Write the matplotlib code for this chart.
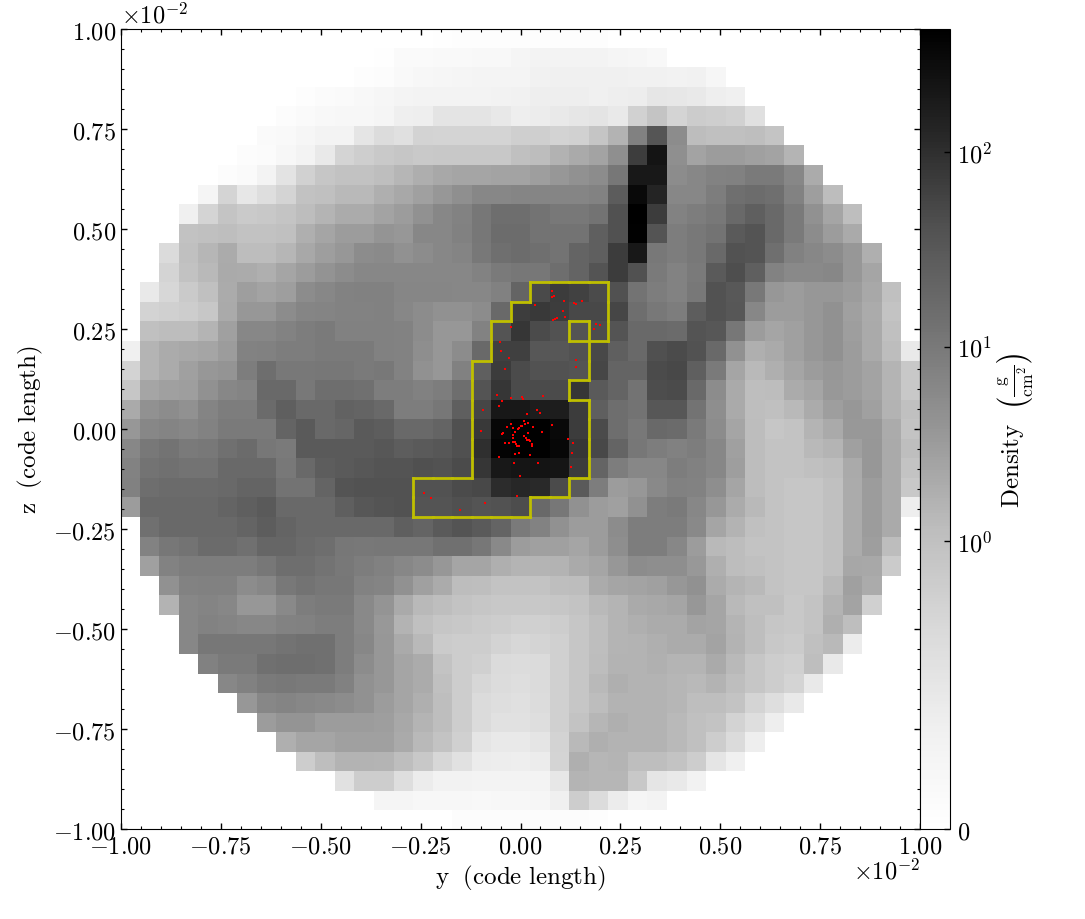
import numpy as np
import matplotlib
matplotlib.use('Agg')
import matplotlib.pyplot as plt
from matplotlib.collections import LineCollection
from matplotlib.colors import SymLogNorm

# projected density, one list per row from the top, first entry sits in column row_start[r]
row_start = [16, 13, 11, 9, 8, 7, 6, 5, 4, 3, 3, 2, 2, 1, 1, 1, 0, 0, 0, 0, 0, 0, 0, 0, 0,
             1, 1, 1, 2, 2, 3, 3, 4, 5, 6, 7, 8, 9, 11, 13, 16]
density_rows = [
    [.03, .05, .05, .06, .06, .06, .06, .05, .05],
    [.04, .12, .12, .14, .15, .17, .17, .23, .28, .28, .28, .28, .23, .21, .17],
    [.02, .05, .07, .14, .19, .21, .24, .25, .25, .26, .33, .35, .35, .35, .35, .33, .33, .3, .33, .21],
    [.05, .1, .12, .17, .21, .25, .28, .28, .28, .28, .3, .33, .38, .39, .39, .35, .39, .4, .51, .49, .46, .38, .35],
    [.07, .12, .17, .19, .2, .23, .36, .38, .54, .53, .53, .47, .39, .42, .45, .51, .54, .45, .8, .96, .75, .86, .83, .8, .59],
    [.12, .14, .21, .28, .28, .52, .65, .59, .78, .77, .77, .77, .77, .82, .82, .78, .8, .95, 1.6, 7.9, 35, 5.3, 1.17, 1.0, 1.0, 1.12, .96],
    [.07, .1, .19, .28, .46, .77, .83, .9, .93, .9, .91, .91, .91, .91, 1.0, 1.2, 1.67, 2.05, 2.6, 4.8, 69, 225, 4.8, 2.55, 3.2, 3.2, 2.78, 2.6, 1.52],
    [.07, .12, .28, .55, .8, .93, .98, .98, 1.1, 1.42, 1.85, 2.2, 2.4, 2.4, 2.55, 2.6, 3.0, 3.77, 4.5, 5.3, 11, 190, 190, 5.3, 6.3, 7.4, 7.9, 9.6, 9.6, 6.3, 1.95],
    [.23, .77, .49, .62, .77, .98, 1.0, 1.3, 1.3, 1.77, 2.2, 2.78, 3.77, 4.8, 6.3, 6.3, 6.7, 6.7, 6.7, 6.7, 7.4, 28, 310, 135, 6.3, 6.3, 8.7, 13.8, 15.8, 13.8, 7.4, 3.0, 1.17],
    [.35, .77, .96, .88, .91, .96, 1.17, 1.52, 1.95, 1.95, 2.6, 3.2, 4.5, 6.3, 7.4, 11, 14.7, 14.7, 12.3, 10.4, 10.4, 12.3, 41, 428, 72, 7.4, 8.7, 10.4, 17.6, 25, 17.6, 9.6, 4.5, 2.4, 1.12],
    [.98, 1.0, 1.12, .98, .98, 1.0, 1.77, 2.4, 3.2, 3.2, 4.0, 3.77, 6.3, 6.3, 7.9, 11, 15.8, 15.8, 12.3, 12.3, 12.3, 25, 41, 400, 36, 8.7, 10.4, 12.3, 30, 36, 17.6, 9.6, 5.3, 3.2, 2.05],
    [.67, 1.0, 1.4, 1.95, 1.17, 1.17, 1.42, 2.2, 3.0, 3.77, 5.3, 5.5, 4.5, 5.3, 6.3, 7, 10.4, 13.8, 15.8, 13.8, 12.3, 21, 25, 70, 190, 10.4, 8.7, 10.4, 17.6, 40, 36, 13.8, 7.9, 6.3, 5.3, 3.77, 1.77],
    [.77, .98, 1.3, 2.05, 1.95, 1.77, 2.4, 3.2, 4.1, 5.3, 6.3, 6.3, 6.3, 6.3, 6.3, 6.3, 7.4, 9.6, 11, 11, 14.7, 21, 36, 70, 41, 9.6, 7.4, 9.6, 30, 44, 25, 7.4, 5.7, 5.7, 6.3, 3.77, 2.4],
    [.46, .72, .88, 1.0, 1.95, 3.0, 2.6, 3.0, 5.3, 6.3, 7.4, 7.9, 7.9, 6.5, 6.5, 6.5, 6.3, 6.3, 7.9, 21, 49, 70, 62, 48, 41, 12.3, 8.7, 7.4, 10.4, 40, 32, 10.4, 3.77, 3.2, 3.77, 3.77, 3.2, 2.2, 1.0],
    [.78, .81, .84, .92, 2.05, 3.77, 3.77, 5.3, 6.7, 6.9, 7.4, 7.4, 7.9, 6.3, 5.3, 4.5, 4.5, 5.3, 17.6, 68, 76, 68, 52, 52, 55, 14.7, 10.4, 8.7, 27.5, 40, 33, 6.3, 3.2, 3.2, 3.77, 4.5, 2.78, 1.96, .97],
    [1.01, 1.19, 1.19, 1.52, 2.78, 6.3, 6.3, 7.4, 8.7, 9.7, 7.9, 7.9, 7.9, 7.4, 5.3, 3.77, 3.77, 7.4, 36, 82, 48, 40, 36, 45, 36, 17.6, 17.6, 16.4, 36, 33, 11, 3.2, 2.4, 2.78, 3.77, 4.5, 3.0, 2.05, 1.01],
    [.35, 1.52, 1.96, 2.18, 2.4, 3.2, 7.4, 7.9, 8.7, 8.7, 9.7, 9.7, 9.7, 7.9, 7.4, 5, 3.77, 5.3, 17.6, 63, 63, 33, 33, 40, 52, 25, 17.6, 42, 48, 40, 17.6, 4.5, 1.77, 2.05, 2.78, 3.77, 4.5, 3.2, 2.05, 1.19, .46],
    [.78, 1.52, 1.96, 2.78, 3.77, 4, 8.7, 14.7, 10.4, 10.4, 11, 11, 9.7, 10.4, 7.4, 4.5, 3.77, 7.9, 25, 72, 48, 40, 40, 36, 55, 21, 21, 48, 52, 25, 9.7, 2.4, 1.3, 1.77, 2.4, 3.2, 3.77, 3.2, 2.6, 1.52, .91],
    [.93, 2.4, 2.78, 3.0, 4.5, 6.3, 6.9, 17.6, 17.6, 10.4, 14.7, 14.7, 13.6, 8.7, 8.7, 7.9, 8.7, 14.7, 36, 82, 48, 48, 48, 82, 30, 21, 12.3, 45, 48, 17.6, 5.3, 2.05, 1.1, 1.19, 1.96, 2.4, 3.55, 3.2, 2.6, 1.52, .91],
    [2.05, 4.5, 5.3, 4.5, 6.9, 8.7, 8.7, 16.4, 25, 17.6, 17.6, 23, 21, 17.6, 8.7, 8.7, 11, 25, 55, 194, 194, 166, 166, 72, 25, 14.7, 12.3, 33, 33, 12.3, 5, 2.05, 1.1, 1.01, 1.3, 1.96, 3, 3.77, 2.78, 1.61, 1.01],
    [3.77, 6.3, 6.9, 6.3, 7.4, 9.7, 9.7, 9.7, 21, 30, 17.6, 19.5, 30, 27.5, 17.6, 17.6, 21, 42, 76, 340, 410, 410, 310, 72, 48, 14.7, 10.4, 17.6, 16.4, 9.7, 5.3, 2.4, 1.19, .93, .97, 1.52, 2.05, 3.55, 3.55, 1.96, .97],
    [6.3, 10.4, 12.3, 9.7, 10.4, 13.6, 16.4, 11, 9.7, 30, 30, 30, 30, 33, 27.5, 30, 33, 42, 98, 375, 428, 410, 340, 82, 52, 21, 11, 8.7, 7.9, 8.7, 6.3, 2.78, 1.19, .97, .97, 1.3, 1.52, 2.78, 3.77, 2.05, 1.1],
    [7.4, 12.3, 13.6, 12.3, 12.3, 17.6, 17.6, 17.6, 10.4, 17.6, 27.5, 30, 33, 36, 36, 42, 40, 48, 82, 194, 214, 225, 214, 72, 21, 8.7, 6.3, 6.3, 8.7, 7.9, 6.3, 3, 1.19, .97, .97, 1.01, 1.19, 2.05, 3.77, 2.05, .97],
    [7.9, 14.7, 16.4, 16.4, 16.4, 17.6, 21, 21, 12.3, 12.3, 21, 36, 40, 40, 40, 40, 40, 48, 52, 107, 122, 115, 48, 30, 8.7, 3.2, 3.77, 5.7, 7.9, 7.4, 5, 2.4, 1.19, .97, .93, .93, 1.01, 1.96, 3.2, 2.05, .91],
    [3.2, 17.6, 17.6, 17.6, 17.6, 21, 25, 30, 17.6, 17.6, 17.6, 25, 33, 36, 40, 36, 36, 42, 36, 40, 45, 17.6, 11, 4.5, 3.2, 2.78, 4.5, 8.7, 9.7, 6.3, 3.77, 1.96, 1.3, .97, .93, .93, 1.01, 1.96, 3.2, 2.05, .38],
    [13.6, 17.6, 17.6, 17.6, 17.6, 21, 27.5, 21, 17.6, 17.6, 17.6, 17.6, 17.6, 25, 21, 30, 36, 30, 21, 9.7, 7.4, 4.5, 3.2, 3.2, 5.3, 8.7, 8.7, 8.7, 5.7, 2.4, 1.61, 1.01, .97, .93, .93, 1.01, 1.96, 3.2, 2.05],
    [7.4, 11, 12.3, 16.4, 16.4, 13.6, 19.5, 19.5, 16.4, 14.7, 11, 10.4, 11, 11, 11, 13.6, 13.6, 11, 5.7, 3.2, 2.78, 2.78, 2.4, 3.2, 5, 8.7, 8.7, 6.3, 3.2, 1.3, 1.19, .97, .97, .93, .93, 1.01, 1.96, 3, 1.19],
    [2.78, 7.4, 8.7, 8.7, 8.7, 8.7, 11, 14.7, 14.7, 12.3, 10.4, 8.7, 7.9, 6.3, 5.3, 3.77, 2.4, 2.4, 1.77, 1.52, 1.52, 1.61, 2.05, 2.4, 3.77, 5.3, 5, 5, 3.55, 1.77, 1.19, 1.01, .97, .93, .93, 1.01, 2.3, 2.18, .87],
    [4.5, 7.4, 7.9, 7.9, 5.3, 6.3, 10.4, 12.3, 11, 11, 7.4, 6.9, 4.5, 2.78, 1.96, 1.19, 1.1, .97, .97, .97, 1.1, 1.19, 1.96, 2.4, 2.6, 2.78, 3.77, 4.5, 1.96, 1.52, 1.3, .97, .93, .93, 1.3, 2.78, 1.96],
    [1.61, 6.3, 6.9, 6.3, 3.77, 3.77, 5.7, 8.7, 9.7, 9.7, 5.7, 4, 2.05, 1.3, 1.1, .97, .93, .91, .91, .91, .93, .97, 1.3, 1.52, 2.05, 2.18, 2.4, 3.77, 2.4, 1.3, 1.01, 1.01, .91, .97, 1.61, 2.6, .81],
    [6.3, 7.4, 6.9, 6.3, 6.3, 7.4, 7.9, 8.7, 8.7, 5.7, 3.55, 1.61, 1.01, .93, .91, .87, .84, .81, .81, .84, .93, 1.1, 1.52, 1.77, 1.96, 1.96, 2.6, 2.4, 1.52, 1.1, .93, .91, .97, 1.77, 1.1],
    [6.3, 11, 11, 11, 11, 12.3, 13.6, 13.6, 8.7, 6.3, 3.77, 2.05, 1.3, .87, .84, .84, .78, .72, .76, .81, .93, 1.1, 1.52, 1.61, 1.77, 1.96, 1.96, 2.6, 1.61, 1.1, .91, .87, 1.01, 1.3, .42],
    [7.9, 9.7, 9.7, 13.6, 14.7, 14.7, 13.6, 8.7, 5.3, 3.77, 2.4, 1.96, .97, .84, .81, .67, .65, .67, .81, .93, 1.19, 1.61, 1.61, 1.7, 1.52, 1.52, 2.05, 1.3, .93, .84, .81, 1.1, .46],
    [6.3, 7.9, 9.7, 10.4, 9.7, 9.7, 7.9, 4.5, 3.77, 2.4, 1.96, 1.01, .84, .72, .65, .62, .67, .81, .93, 1.3, 1.77, 1.61, 1.61, 1.43, 1.3, 1.61, 1.1, .93, .84, .76, .46],
    [3.77, 6.3, 6.9, 6.3, 5.7, 5.3, 4.5, 3.2, 2.4, 1.77, 1.1, .84, .67, .62, .59, .65, .81, .93, 1.19, 1.61, 1.61, 1.61, 1.43, 1.1, 1.1, .97, .76, .62, .46],
    [3.2, 4, 4, 3.2, 3.2, 3.2, 3, 2.18, 1.52, 1.1, .84, .67, .57, .57, .62, .81, .97, 1.43, 1.77, 1.61, 1.61, 1.3, 1.01, .97, .78, .62, .38],
    [1.77, 2.4, 2.4, 2.78, 2.78, 2.78, 2.05, 1.3, .97, .81, .52, .46, .46, .52, .78, 1.3, 1.77, 1.61, 1.61, 1.61, 1.3, 1.01, .84, .67, .38],
    [.84, 1.1, 1.61, 1.61, 1.52, 1.1, .91, .72, .57, .42, .4, .38, .42, .76, 1.77, 1.43, 1.52, 1.1, 1.1, .97, .84, .52, .35],
    [.57, .84, .84, .62, .42, .3, .3, .28, .28, .28, .28, .49, 1.52, 1.43, 1.43, .91, .52, .46, .3],
    [.23, .23, .19, .19, .19, .17, .19, .19, .21, .35, .84, .65, .42, .23, .28],
    [.02, .07, .07, .07, .07, .07, .07, .07, .05],
]

# clump outline: row, first column, last column, plus one cell left out of it
clump_row = [13, 14, 15, 16, 17, 18, 19, 20, 21, 22, 23, 24]
clump_first = [21, 20, 19, 19, 18, 18, 18, 18, 18, 18, 15, 15]
clump_last = [24, 24, 24, 23, 23, 22, 23, 23, 23, 23, 22, 20]
clump_hole = (15, 23)

# particles, y and z in units of 1e-2 code length
particle_y = [.078, .085, .080, .036, .110, .133, .138, .155, .106, .111, .092, .086, .082, .188, .199, .183,
              -.024, -.052, -.048, -.030, -.040, .140, .139, -.058, -.046, -.025, .003, .007, .057, -.053,
              -.093, .041, .048, .016, -.098, .078, .055, .119, .132, .128, -.055, -.016, .045, .127, -.002,
              -.010, -.242, -.224, -.089, -.151, .032, .009, -.024, -.034, -.044, -.046, -.018, -.015, -.020,
              -.020, -.019, -.015, -.012, -.010, -.039, -.029, -.004, -.014, -.003, .024, .018, .010, .013,
              .017, .021, .025, .028, .029, -.006, -.003, .000, .005, .011, .020]
particle_z = [.344, .333, .329, .311, .320, .314, .313, .321, .294, .279, .2775, .275, .2725, .2625, .259, .25,
              .255, .217, .194, .178, .149, .173, .156, .084, .071, .078, .079, .076, .083, .0575,
              .0475, .047, .041, .037, -.004, .011, -.008, -.026, -.036, -.061, -.069, -.084, -.085, -.095, -.1175,
              -.1675, -.16, -.173, -.185, -.2025, .004, .02, .013, .005, -.009, -.013, .002, -.007, -.014,
              -.023, -.033, -.033, -.037, -.042, -.036, -.036, -.042, -.063, -.059, -.066, -.01, -.017, -.023,
              -.027, -.0275, -.03, -.038, -.042, 0.0, .003, .007, .008, .0125, .015]

tick_values = [-1.0, -0.75, -0.5, -0.25, 0.0, 0.25, 0.5, 0.75, 1.0]
cbar_ticks = [0, 1, 10, 100]
cbar_labels = ['$0$', '$10^{0}$', '$10^{1}$', '$10^{2}$']

plt.rcParams['mathtext.fontset'] = 'cm'
FS = 17.5
LABEL_FS = 18
W, H = 1085, 920

n_cells = 41
dx = 0.0489
edges = (np.arange(n_cells + 1) - n_cells / 2) * dx
density = np.zeros((n_cells, n_cells))
for r, (start, vals) in enumerate(zip(row_start, density_rows)):
    density[r, start:start + len(vals)] = vals

clump = np.zeros((n_cells, n_cells), dtype=bool)
for r, a, b in zip(clump_row, clump_first, clump_last):
    clump[r, a:b + 1] = True
clump[clump_hole] = False

# row 0 is the top of the picture
z_edges = edges[::-1]
segs = []
for r, c in zip(*np.nonzero(clump)):
    if not clump[r - 1, c]:
        segs.append([(edges[c], z_edges[r]), (edges[c + 1], z_edges[r])])
    if not clump[r + 1, c]:
        segs.append([(edges[c], z_edges[r + 1]), (edges[c + 1], z_edges[r + 1])])
    if not clump[r, c - 1]:
        segs.append([(edges[c], z_edges[r]), (edges[c], z_edges[r + 1])])
    if not clump[r, c + 1]:
        segs.append([(edges[c + 1], z_edges[r]), (edges[c + 1], z_edges[r + 1])])

fig = plt.figure(figsize=(W / 100, H / 100), dpi=100)
ax = fig.add_axes([121 / W, (H - 830) / H, 799 / W, 800 / H])
cax = fig.add_axes([920 / W, (H - 830) / H, 30 / W, 800 / H])

norm = SymLogNorm(linthresh=1.0, linscale=1.33, vmin=0, vmax=428, base=10)
mesh = ax.pcolormesh(edges, z_edges, density, cmap='Greys', norm=norm, antialiased=False, linewidth=0)
ax.add_collection(LineCollection(segs, colors='y', linewidths=2.0, capstyle='projecting', zorder=3))
ax.scatter(particle_y, particle_z, s=1.5, c='red', marker='s', linewidths=0, zorder=4)

ax.set_xlim(-1, 1)
ax.set_ylim(-1, 1)
tick_labels = [f'${v:.2f}$' for v in tick_values]
ax.set_xticks(tick_values, tick_labels, fontsize=FS)
ax.set_yticks(tick_values, tick_labels, fontsize=FS)
ax.set_xticks(np.arange(-20, 21) * 0.05, minor=True)
ax.set_yticks(np.arange(-20, 21) * 0.05, minor=True)
ax.tick_params(which='major', direction='in', top=True, right=True, length=4, width=1)
ax.tick_params(which='minor', direction='in', top=True, right=True, length=2.2, width=0.8)
ax.tick_params(axis='x', pad=3)
ax.set_xlabel(r'$\mathrm{y\ \ (code\ length)}$', fontsize=LABEL_FS, labelpad=4)
ax.set_ylabel(r'$\mathrm{z\ \ (code\ length)}$', fontsize=LABEL_FS, labelpad=6)
ax.text(0, 1.002, r'$\times 10^{-2}$', transform=ax.transAxes, fontsize=FS, ha='left', va='bottom')
ax.text(1, -0.036, r'$\times 10^{-2}$', transform=ax.transAxes, fontsize=FS, ha='right', va='top')

cbar = fig.colorbar(mesh, cax=cax, ticks=cbar_ticks)
cbar.ax.minorticks_off()
cbar.set_ticklabels(cbar_labels, fontsize=FS)
cbar.ax.tick_params(direction='in', length=4, width=1, pad=5)
cbar.set_label(r'$\mathrm{Density}\ \ \left(\frac{\mathrm{g}}{\mathrm{cm}^{2}}\right)$', fontsize=LABEL_FS, labelpad=2)

fig.savefig('out.png', dpi=100)
